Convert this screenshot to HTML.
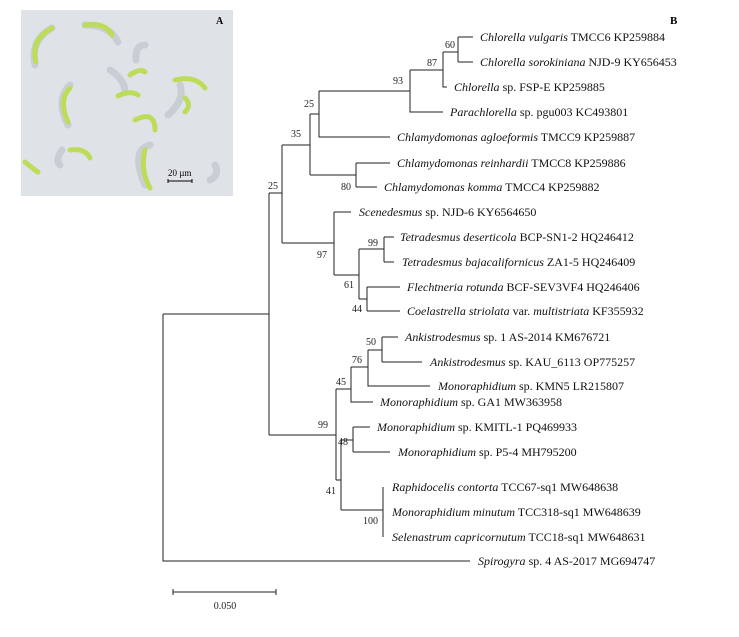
<!DOCTYPE html>
<html><head><meta charset="utf-8"><style>
html,body{margin:0;padding:0;background:#fff;}
svg{display:block;}
.t{font-family:"Liberation Serif",serif;font-size:12px;fill:#111;}
.b{font-family:"Liberation Serif",serif;font-size:10px;fill:#222;}
</style></head><body>
<svg width="739" height="637" viewBox="0 0 739 637" xmlns="http://www.w3.org/2000/svg">
<rect x="21" y="10" width="212" height="186" fill="#dfe3e8"/>
<g fill="none" stroke-linecap="round">
<g stroke="#c8ced4" stroke-width="7">
<path d="M52 28 Q30 40 35 65"/><path d="M85 25 Q110 25 118 42"/><path d="M145 45 Q135 45 136 60"/>
<path d="M110 70 Q125 80 125 92"/><path d="M70 85 Q55 100 68 125"/><path d="M180 85 Q185 100 168 115"/>
<path d="M150 145 Q130 150 145 185"/><path d="M62 150 Q55 160 60 165"/><path d="M215 165 Q220 175 210 180"/>
</g>
<g stroke="#bddc5a" stroke-width="5">
<path d="M52 28 Q30 40 36 62"/><path d="M85 25 Q105 22 112 35"/><path d="M175 80 Q195 75 205 88"/>
<path d="M70 88 Q58 100 68 122"/><path d="M118 96 Q130 90 138 95"/><path d="M135 120 Q155 110 155 130"/>
<path d="M145 150 Q140 170 150 188"/><path d="M70 150 Q85 148 90 158"/><path d="M25 162 Q32 168 38 172"/>
<path d="M130 75 Q140 68 145 72"/><path d="M185 98 Q192 105 185 112"/>
</g></g>
<text x="216" y="24" font-family="Liberation Serif,serif" font-size="10" font-weight="bold">A</text>
<text x="168" y="176" font-family="Liberation Serif,serif" font-size="9">20 µm</text>
<line x1="168" y1="181" x2="192" y2="181" stroke="#000" stroke-width="1"/>
<line x1="168" y1="179" x2="168" y2="183" stroke="#000"/><line x1="192" y1="179" x2="192" y2="183" stroke="#000"/>
<text x="670" y="24" font-family="Liberation Serif,serif" font-size="11" font-weight="bold">B</text>

<g stroke="#222" stroke-width="1" fill="none">
<path d="M163 314 V561 H470"/>
<path d="M163 314 H269 M269 193 V435"/>
<path d="M269 193 H282 M282 145 V243"/>
<path d="M282 145 H310 M310 114 V175"/>
<path d="M310 114 H319 M319 91 V137 H390"/>
<path d="M319 91 H410 M410 70 V112 H443"/>
<path d="M410 70 H443 M443 52 V87 H447"/>
<path d="M443 52 H458 M458 37 V62"/>
<path d="M458 37 H473 M458 62 H473"/>
<path d="M310 175 H356 M356 163 V187 M356 163 H390 M356 187 H377"/>
<path d="M282 243 H334 M334 212 V275 M334 212 H351"/>
<path d="M334 275 H359 M359 249 V299"/>
<path d="M359 249 H384 M384 237 V262 M384 237 H394 M384 262 H394"/>
<path d="M359 299 H367 M367 287 V311 M367 287 H400 M367 311 H400"/>
<path d="M269 435 H336 M336 389 V480"/>
<path d="M336 389 H351 M351 367 V402 H373"/>
<path d="M351 367 H368 M368 350 V386 H430"/>
<path d="M368 350 H382 M382 337 V362 M382 337 H398 M382 362 H422"/>
<path d="M336 480 H341 M341 440 V510"/>
<path d="M341 440 H353 M353 427 V452 M353 427 H370 M353 452 H390"/>
<path d="M341 510 H383 M383 487 V537"/>
<path d="M173 592 H276 M173 589 V595 M276 589 V595"/>
</g>
<text class="b" x="225" y="609" text-anchor="middle">0.050</text>

<g class="b">
<text x="445" y="48">60</text><text x="427" y="66">87</text><text x="393" y="84">93</text>
<text x="304" y="107">25</text><text x="291" y="137">35</text><text x="341" y="190">80</text>
<text x="268" y="189">25</text><text x="317" y="258">97</text><text x="368" y="246">99</text>
<text x="344" y="288">61</text><text x="352" y="312">44</text><text x="366" y="345">50</text>
<text x="352" y="363">76</text><text x="336" y="385">45</text><text x="318" y="428">99</text>
<text x="338" y="445">48</text><text x="326" y="494">41</text><text x="363" y="524">100</text>
</g>

<g class="t">
<text x="480" y="41"><tspan font-style="italic">Chlorella vulgaris</tspan> TMCC6 KP259884</text>
<text x="480" y="66"><tspan font-style="italic">Chlorella sorokiniana</tspan> NJD-9 KY656453</text>
<text x="454" y="91"><tspan font-style="italic">Chlorella</tspan> sp. FSP-E KP259885</text>
<text x="450" y="116"><tspan font-style="italic">Parachlorella</tspan> sp. pgu003 KC493801</text>
<text x="397" y="141"><tspan font-style="italic">Chlamydomonas agloeformis</tspan> TMCC9 KP259887</text>
<text x="397" y="167"><tspan font-style="italic">Chlamydomonas reinhardii</tspan> TMCC8 KP259886</text>
<text x="384" y="191"><tspan font-style="italic">Chlamydomonas komma</tspan> TMCC4 KP259882</text>
<text x="359" y="216"><tspan font-style="italic">Scenedesmus</tspan> sp. NJD-6 KY6564650</text>
<text x="400" y="241"><tspan font-style="italic">Tetradesmus deserticola</tspan> BCP-SN1-2 HQ246412</text>
<text x="402" y="266"><tspan font-style="italic">Tetradesmus bajacalifornicus</tspan> ZA1-5 HQ246409</text>
<text x="407" y="291"><tspan font-style="italic">Flechtneria rotunda</tspan> BCF-SEV3VF4 HQ246406</text>
<text x="407" y="315"><tspan font-style="italic">Coelastrella striolata</tspan> var. <tspan font-style="italic">multistriata</tspan> KF355932</text>
<text x="405" y="341"><tspan font-style="italic">Ankistrodesmus</tspan> sp. 1 AS-2014 KM676721</text>
<text x="430" y="366"><tspan font-style="italic">Ankistrodesmus</tspan> sp. KAU_6113 OP775257</text>
<text x="438" y="390"><tspan font-style="italic">Monoraphidium</tspan> sp. KMN5 LR215807</text>
<text x="380" y="406"><tspan font-style="italic">Monoraphidium</tspan> sp. GA1 MW363958</text>
<text x="377" y="431"><tspan font-style="italic">Monoraphidium</tspan> sp. KMITL-1 PQ469933</text>
<text x="398" y="456"><tspan font-style="italic">Monoraphidium</tspan> sp. P5-4 MH795200</text>
<text x="392" y="491"><tspan font-style="italic">Raphidocelis contorta</tspan> TCC67-sq1 MW648638</text>
<text x="392" y="516"><tspan font-style="italic">Monoraphidium minutum</tspan> TCC318-sq1 MW648639</text>
<text x="392" y="541"><tspan font-style="italic">Selenastrum capricornutum</tspan> TCC18-sq1 MW648631</text>
<text x="478" y="565"><tspan font-style="italic">Spirogyra</tspan> sp. 4 AS-2017 MG694747</text>
</g>
</svg>
</body></html>
